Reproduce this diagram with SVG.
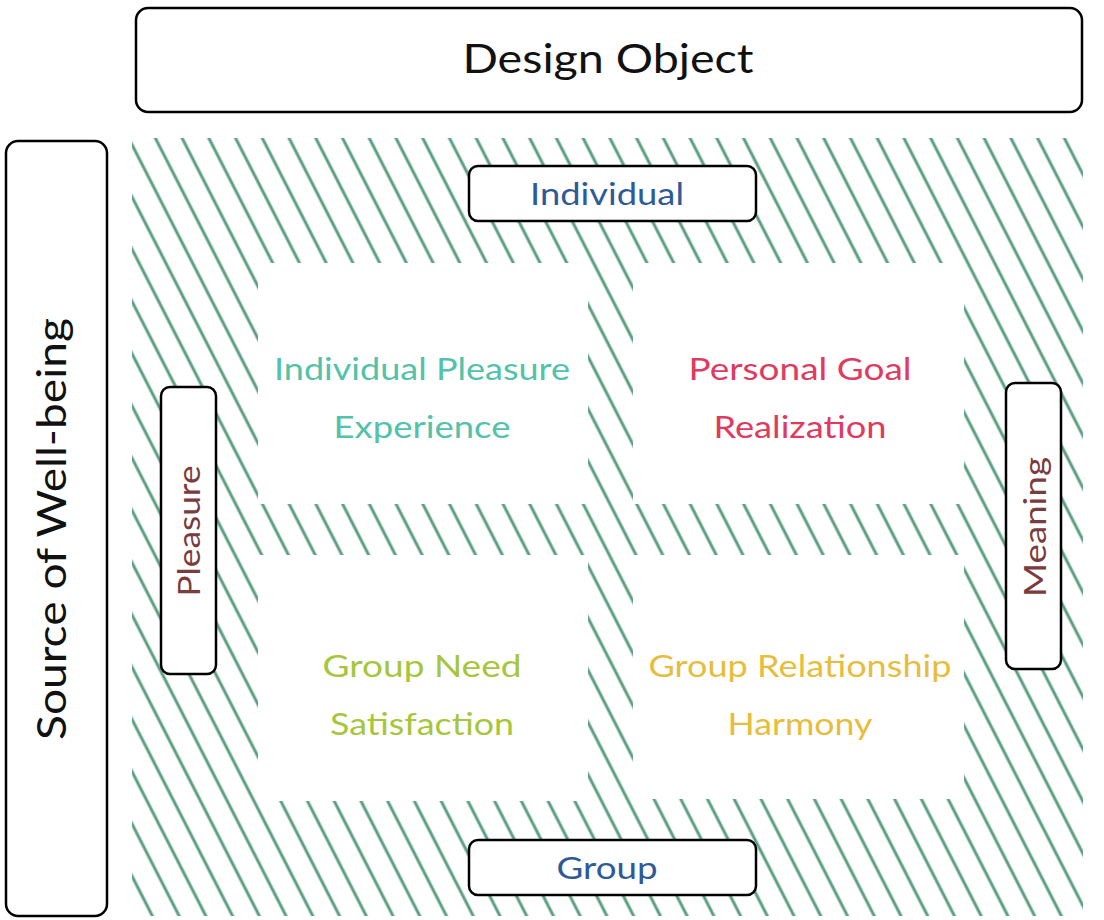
<svg xmlns="http://www.w3.org/2000/svg" width="1104" height="920" viewBox="0 0 1104 920">
<style>
.box{fill:#fff;stroke:#000;stroke-width:2.5}
.quad{fill:#fff;stroke:none}
text{font-family:"Lato","Open Sans","DejaVu Sans",sans-serif;text-anchor:middle;dominant-baseline:central}
.big{font-size:41px;fill:#111}
.lab{font-size:30px}
.q{font-size:30px}
</style>
<defs>
<pattern id="hatch" patternUnits="userSpaceOnUse" width="23.8" height="40" patternTransform="rotate(-27.1)">
<line x1="4" y1="-5" x2="4" y2="45" stroke="#5a9d81" stroke-width="3"/>
</pattern>
</defs>
<rect x="0" y="0" width="1104" height="920" fill="#fff"/>
<g id="hatch-area">
<rect x="132" y="138" width="951" height="778" fill="url(#hatch)"/>
<rect class="quad" x="258" y="263" width="330" height="241"/>
<rect class="quad" x="633" y="263" width="331" height="241"/>
<rect class="quad" x="258" y="555" width="330" height="246"/>
<rect class="quad" x="633" y="555" width="331" height="244"/>
</g>
<g id="design-object">
<rect class="box" x="136" y="8" width="946" height="104" rx="12"/>
<text class="big" x="608" y="57" textLength="291" lengthAdjust="spacingAndGlyphs">Design Object</text>
</g>
<g id="source">
<rect class="box" x="6" y="141" width="101" height="775" rx="12"/>
<text class="big" transform="translate(50,529) rotate(-90)" textLength="422" lengthAdjust="spacingAndGlyphs">Source of Well-being</text>
</g>
<g id="individual">
<rect class="box" x="469" y="166" width="287" height="55" rx="9"/>
<text class="lab" x="607" y="193" fill="#2e5a96" textLength="154" lengthAdjust="spacingAndGlyphs">Individual</text>
</g>
<g id="group">
<rect class="box" x="469" y="840" width="287" height="55" rx="9"/>
<text class="lab" x="607" y="867" fill="#2e5a96" textLength="101" lengthAdjust="spacingAndGlyphs">Group</text>
</g>
<g id="pleasure">
<rect class="box" x="161" y="387" width="55" height="287" rx="9"/>
<text class="lab" transform="translate(188,531) rotate(-90)" fill="#7a3c3c" textLength="131" lengthAdjust="spacingAndGlyphs">Pleasure</text>
</g>
<g id="meaning">
<rect class="box" x="1006" y="383" width="55" height="286" rx="9"/>
<text class="lab" transform="translate(1034,527) rotate(-90)" fill="#7a3c3c" textLength="140" lengthAdjust="spacingAndGlyphs">Meaning</text>
</g>
<g id="individual-pleasure">
<text class="q" x="422" y="368" fill="#52c3a8" textLength="296" lengthAdjust="spacingAndGlyphs">Individual Pleasure</text>
<text class="q" x="422" y="426" fill="#52c3a8" textLength="177" lengthAdjust="spacingAndGlyphs">Experience</text>
</g>
<g id="personal-goal">
<text class="q" x="800" y="368" fill="#e03a60" textLength="223" lengthAdjust="spacingAndGlyphs">Personal Goal</text>
<text class="q" x="800" y="426" fill="#e03a60" textLength="173" lengthAdjust="spacingAndGlyphs">Realization</text>
</g>
<g id="group-need">
<text class="q" x="422" y="665" fill="#a6c63c" textLength="199" lengthAdjust="spacingAndGlyphs">Group Need</text>
<text class="q" x="422" y="723" fill="#a6c63c" textLength="184" lengthAdjust="spacingAndGlyphs">Satisfaction</text>
</g>
<g id="group-relationship">
<text class="q" x="800" y="665" fill="#e6bd3c" textLength="303" lengthAdjust="spacingAndGlyphs">Group Relationship</text>
<text class="q" x="800" y="723" fill="#e6bd3c" textLength="145" lengthAdjust="spacingAndGlyphs">Harmony</text>
</g>
<g id="connectors"></g>
</svg>
